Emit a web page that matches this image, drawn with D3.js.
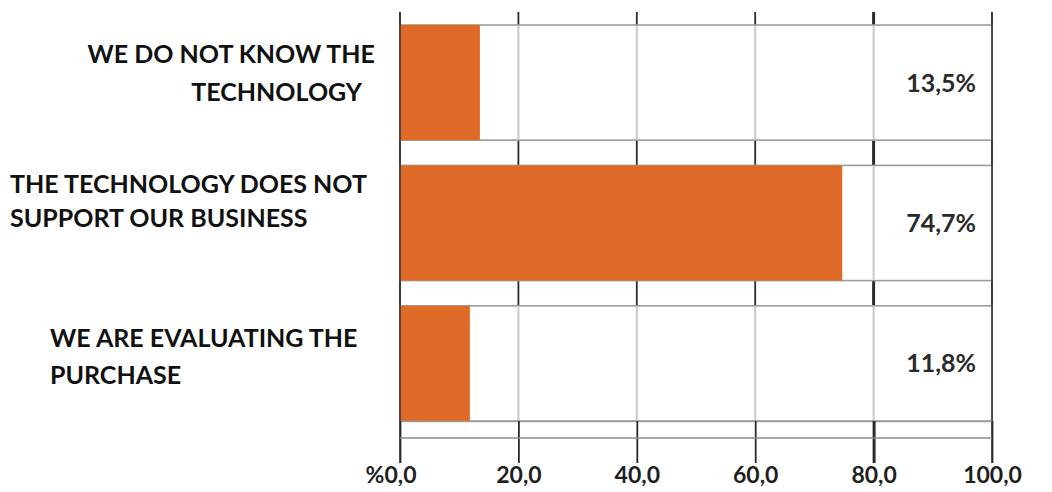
<!DOCTYPE html>
<html>
<head>
<meta charset="utf-8">
<script src="https://cdn.jsdelivr.net/npm/d3@7"></script>
<style>
  html, body { margin: 0; padding: 0; background: #fff; }
  svg { display: block; }
  text { font-family: Lato, "Open Sans", sans-serif; font-weight: 700; }
</style>
</head>
<body>
<svg id="chart" width="1052" height="492"></svg>
<script>
// Reasons for not adopting the technology (share of respondents, %)
const categories = ["know", "support", "evaluating"];
const labelLines = [
  ["WE DO NOT KNOW THE", "TECHNOLOGY"],
  ["THE TECHNOLOGY DOES NOT", "SUPPORT OUR BUSINESS"],
  ["WE ARE EVALUATING THE", "PURCHASE"]
];
const values = [13.5, 74.7, 11.8];
const valueLabels = ["13,5%", "74,7%", "11,8%"];
const xTicks = [0, 20, 40, 60, 80, 100];

// Layout of the category label lines: [anchor, x, dy from row centre]
const labelLayout = [
  [["end", 375, -20], ["end", 362, 18]],
  [["start", 10, -30], ["start", 10, 4]],
  [["start", 50, -16], ["start", 50, 21]]
];

const svg = d3.select("#chart");
const plotTop = 25, plotBottom = 421, gridTop = 12, tickLen = 42;
const labelSize = "25px", tickSize = "23px";

const x = d3.scaleLinear().domain([0, 100]).range([400, 992]);
const y = d3.scaleBand().domain(categories).range([plotTop, plotBottom]).paddingInner(0.18).paddingOuter(0);

const barColor = "#df6a27";

// Dark gridlines running the full height (visible between the row boxes)
svg.append("g")
  .selectAll("line")
  .data(xTicks)
  .join("line")
  .attr("x1", d => x(d)).attr("x2", d => x(d))
  .attr("y1", gridTop).attr("y2", plotBottom)
  .attr("stroke", "#2b2b2b")
  .attr("stroke-width", d => d === 80 ? 3 : 1.8);

// Row boxes
const rows = svg.append("g")
  .selectAll("g")
  .data(categories)
  .join("g");

rows.append("rect")
  .attr("x", x(0))
  .attr("y", d => y(d))
  .attr("width", x(100) - x(0))
  .attr("height", y.bandwidth())
  .attr("fill", "#fff")
  .attr("stroke", "#9c9c9c")
  .attr("stroke-width", 1.6);

// Light gridlines inside each box
rows.each(function (c) {
  d3.select(this).selectAll("line.inner")
    .data(xTicks.filter(t => t > 0 && t < 100))
    .join("line")
    .attr("class", "inner")
    .attr("x1", t => x(t)).attr("x2", t => x(t))
    .attr("y1", y(c) + 1).attr("y2", y(c) + y.bandwidth() - 1)
    .attr("stroke", "#c9c9cc")
    .attr("stroke-width", 2);
});

// Bars
rows.append("rect")
  .attr("x", x(0))
  .attr("y", d => y(d))
  .attr("width", (d, i) => x(values[i]) - x(0))
  .attr("height", y.bandwidth())
  .attr("fill", barColor);

// Left / right frame lines
svg.append("g")
  .selectAll("line")
  .data([0, 100])
  .join("line")
  .attr("x1", d => x(d)).attr("x2", d => x(d))
  .attr("y1", gridTop).attr("y2", plotBottom + tickLen)
  .attr("stroke", "#3a3a3a")
  .attr("stroke-width", 1.6);

// Bottom axis
const fmt = d => d3.format(".1f")(d).replace(".", ",");
const axis = svg.append("g")
  .attr("transform", `translate(0,${plotBottom})`)
  .call(d3.axisBottom(x).tickValues(xTicks).tickFormat(fmt).tickSize(tickLen).tickSizeOuter(0).tickPadding(4));

axis.select(".domain").attr("stroke", "#9c9c9c").attr("stroke-width", 1.6);
axis.selectAll(".tick line")
  .attr("stroke", "#2b2b2b")
  .attr("stroke-width", d => d === 80 ? 3 : 1.8);
axis.selectAll(".tick text")
  .attr("fill", "#1e1e1e")
  .style("font-size", tickSize)
  .style("font-family", "Lato, 'Open Sans', sans-serif")
  .style("font-weight", 700);

// Percent sign in front of the zero label
axis.selectAll(".tick").filter(d => d === 0).each(function () {
  const t = d3.select(this).select("text");
  const w = t.node().getComputedTextLength();
  d3.select(this).append("text")
    .attr("x", -w / 2)
    .attr("y", t.attr("y"))
    .attr("dy", t.attr("dy"))
    .attr("text-anchor", "end")
    .attr("fill", "#1e1e1e")
    .style("font-size", tickSize)
    .text("%");
});

// Horizontal axis rule
svg.append("line")
  .attr("x1", x(0)).attr("x2", x(100))
  .attr("y1", 438).attr("y2", 438)
  .attr("stroke", "#8c8c8c")
  .attr("stroke-width", 1.6);

// Category labels
categories.forEach((c, i) => {
  const cy = y(c) + y.bandwidth() / 2;
  labelLines[i].forEach((line, j) => {
    const [anchor, lx, dy] = labelLayout[i][j];
    svg.append("text")
      .attr("x", lx)
      .attr("y", cy + dy)
      .attr("text-anchor", anchor)
      .attr("fill", "#111")
      .style("font-size", labelSize)
      .text(line);
  });
});

// Value labels
svg.append("g")
  .selectAll("text")
  .data(categories)
  .join("text")
  .attr("x", 976)
  .attr("y", d => y(d) + y.bandwidth() / 2 + 9)
  .attr("text-anchor", "end")
  .attr("fill", "#2a2a2a")
  .style("font-size", labelSize)
  .text((d, i) => valueLabels[i]);
</script>
</body>
</html>
